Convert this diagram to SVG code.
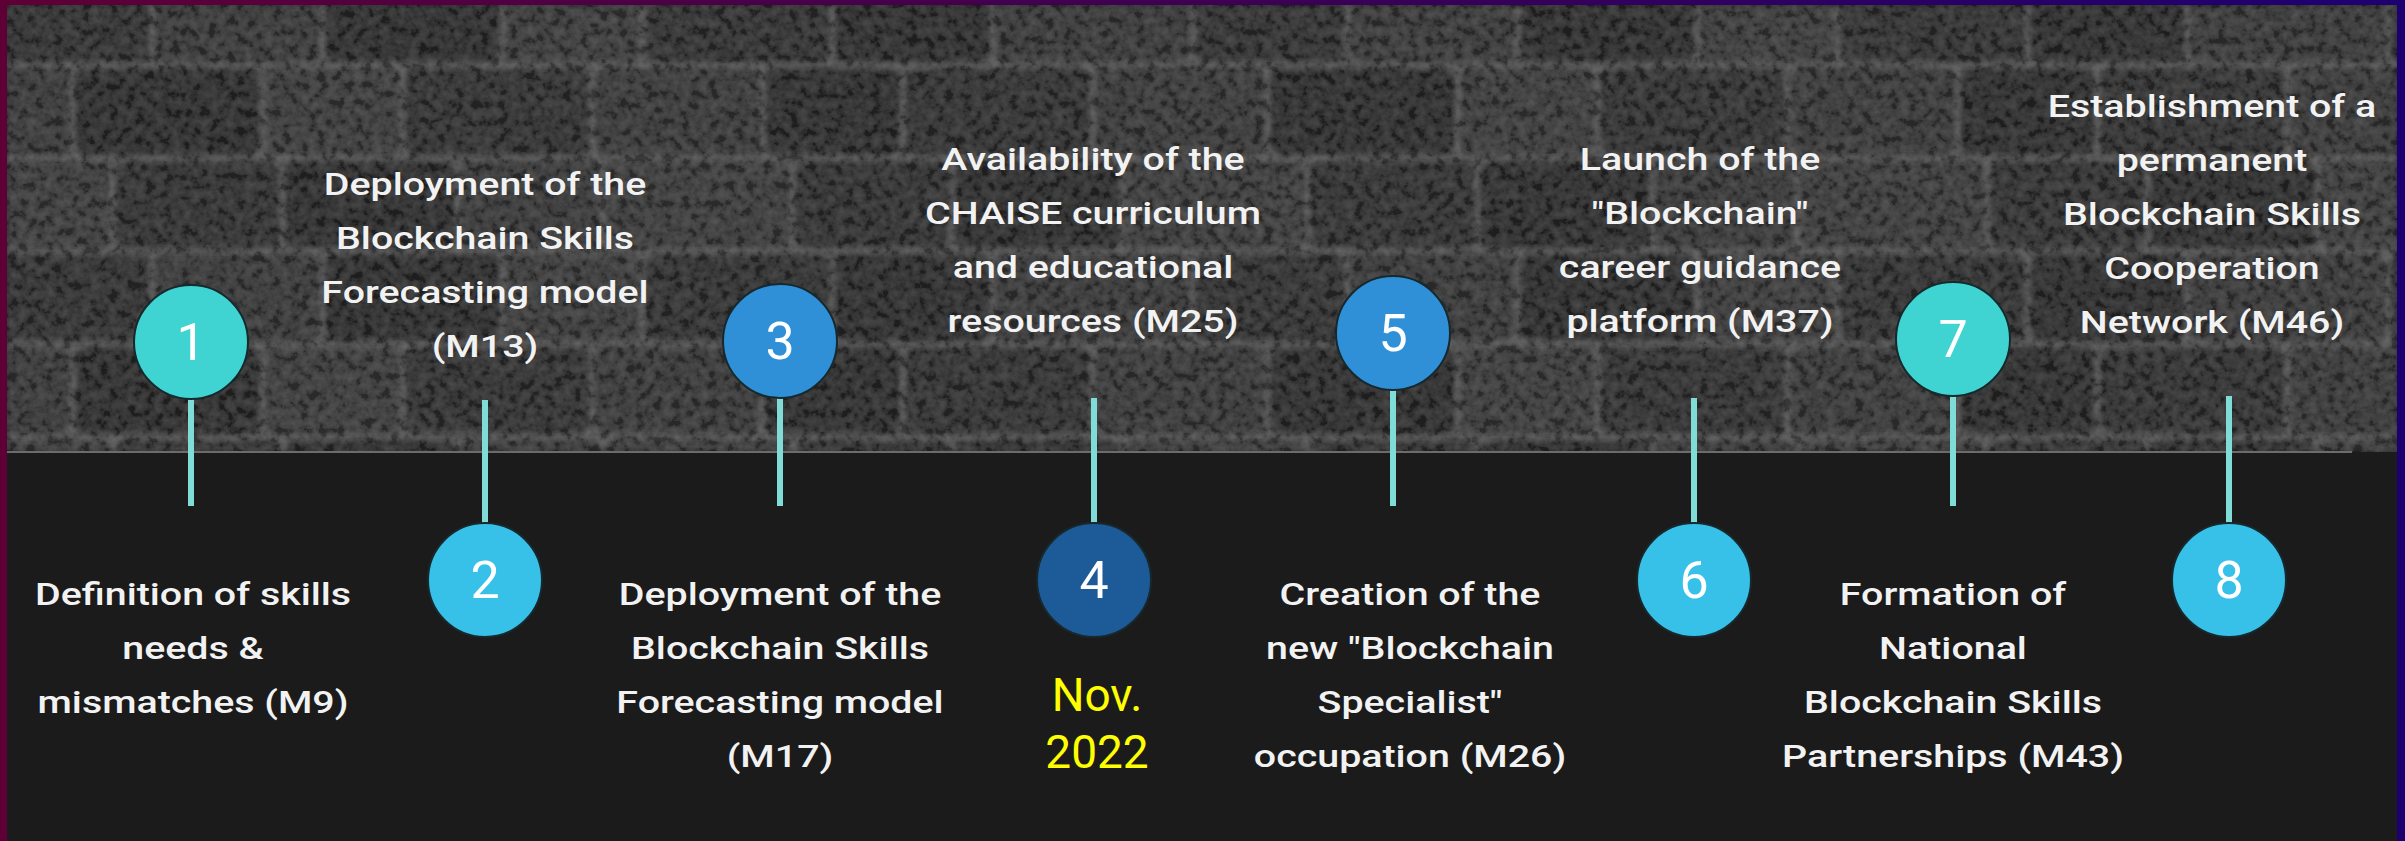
<svg xmlns="http://www.w3.org/2000/svg" width="2405" height="841" viewBox="0 0 2405 841">
<style>
.lbl{font-family:Roboto,"Liberation Sans",sans-serif;font-weight:500;font-size:31px;fill:#f2f2f2;text-anchor:middle}
.num{font-family:Roboto,"Liberation Sans",sans-serif;font-weight:400;font-size:52px;fill:#ffffff;text-anchor:middle}
.date{font-family:Roboto,"Liberation Sans",sans-serif;font-weight:400;font-size:46px;fill:#ffff00;text-anchor:middle}
.dot{stroke:#17292d;stroke-width:2}
.c1{fill:#3fd4d2}.c2{fill:#37c0e8}.c3{fill:#2f90d8}.c4{fill:#1c5a98}
.conn line{stroke:#80dcd6;stroke-width:6}
.b0{fill:#2a2a2a}.b1{fill:#303030}.b2{fill:#262626}.b3{fill:#343434}
</style>
<defs>
<linearGradient id="frame" x1="0" y1="0" x2="1" y2="0">
<stop offset="0" stop-color="#5e0036"/>
<stop offset="1" stop-color="#1d0070"/>
</linearGradient>
<pattern id="bricks" patternUnits="userSpaceOnUse" x="0" y="-25.5" width="1195" height="279">
<rect width="1195" height="279" fill="#505050"/>
<g>
<rect class="b0" x="0" y="0" width="150" height="88" rx="9"/>
<rect class="b1" x="155" y="0" width="165" height="88" rx="9"/>
<rect class="b2" x="325" y="0" width="175" height="88" rx="9"/>
<rect class="b3" x="505" y="0" width="135" height="88" rx="9"/>
<rect class="b0" x="645" y="0" width="185" height="88" rx="9"/>
<rect class="b2" x="835" y="0" width="155" height="88" rx="9"/>
<rect class="b1" x="995" y="0" width="195" height="88" rx="9"/>
<rect class="b1" x="-100" y="93" width="170" height="88" rx="9"/>
<rect class="b2" x="75" y="93" width="185" height="88" rx="9"/>
<rect class="b3" x="265" y="93" width="135" height="88" rx="9"/>
<rect class="b0" x="405" y="93" width="185" height="88" rx="9"/>
<rect class="b1" x="595" y="93" width="165" height="88" rx="9"/>
<rect class="b2" x="765" y="93" width="135" height="88" rx="9"/>
<rect class="b0" x="905" y="93" width="185" height="88" rx="9"/>
<rect class="b1" x="1095" y="93" width="170" height="88" rx="9"/>
<rect class="b3" x="-30" y="186" width="140" height="88" rx="9"/>
<rect class="b0" x="115" y="186" width="165" height="88" rx="9"/>
<rect class="b2" x="285" y="186" width="170" height="88" rx="9"/>
<rect class="b1" x="460" y="186" width="140" height="88" rx="9"/>
<rect class="b3" x="605" y="186" width="185" height="88" rx="9"/>
<rect class="b0" x="795" y="186" width="155" height="88" rx="9"/>
<rect class="b2" x="955" y="186" width="165" height="88" rx="9"/>
<rect class="b3" x="1125" y="186" width="140" height="88" rx="9"/>
</g>
</pattern>
<filter id="soft" x="0" y="0" width="100%" height="100%">
<feGaussianBlur stdDeviation="2.4"/>
</filter>
<filter id="noise" x="0" y="0" width="100%" height="100%">
<feTurbulence type="fractalNoise" baseFrequency="0.11" numOctaves="4" seed="7"/>
<feColorMatrix type="matrix" values="1.1 0 0 0 -0.35  1.1 0 0 0 -0.35  1.1 0 0 0 -0.35  0 0 0 0 0.2"/>
</filter>
</defs>

<g id="background">
<rect x="0" y="0" width="2405" height="841" fill="url(#frame)"/>
<rect x="7" y="5" width="2390" height="836" fill="#1b1b1b"/>
<rect x="7" y="5" width="2390" height="447" fill="url(#bricks)" filter="url(#soft)"/>
<rect x="7" y="5" width="2390" height="447" filter="url(#noise)"/>
<line x1="7" y1="452" x2="2352" y2="452" stroke="#6c6c6c" stroke-width="2"/>
</g>

<g id="connectors" class="conn">
<line x1="191" y1="398" x2="191" y2="506"/>
<line x1="485" y1="400" x2="485" y2="524"/>
<line x1="780" y1="398" x2="780" y2="506"/>
<line x1="1094" y1="398" x2="1094" y2="524"/>
<line x1="1393" y1="390" x2="1393" y2="506"/>
<line x1="1694" y1="398" x2="1694" y2="524"/>
<line x1="1953" y1="396" x2="1953" y2="506"/>
<line x1="2229" y1="396" x2="2229" y2="524"/>
</g>

<g id="node-1">
<circle class="dot c1" cx="191" cy="342" r="57"/>
<text class="num" x="191" y="360">1</text>
<text class="lbl" transform="translate(193,0) scale(1.27,1)"><tspan x="0" y="605">Definition of skills</tspan><tspan x="0" y="659">needs &amp;</tspan><tspan x="0" y="713">mismatches (M9)</tspan></text>
</g>

<g id="node-2">
<circle class="dot c2" cx="485" cy="580" r="57"/>
<text class="num" x="485" y="598">2</text>
<text class="lbl" transform="translate(485,0) scale(1.27,1)"><tspan x="0" y="195">Deployment of the</tspan><tspan x="0" y="249">Blockchain Skills</tspan><tspan x="0" y="303">Forecasting model</tspan><tspan x="0" y="357">(M13)</tspan></text>
</g>

<g id="node-3">
<circle class="dot c3" cx="780" cy="341" r="57"/>
<text class="num" x="780" y="359">3</text>
<text class="lbl" transform="translate(780,0) scale(1.27,1)"><tspan x="0" y="605">Deployment of the</tspan><tspan x="0" y="659">Blockchain Skills</tspan><tspan x="0" y="713">Forecasting model</tspan><tspan x="0" y="767">(M17)</tspan></text>
</g>

<g id="node-4">
<circle class="dot c4" cx="1094" cy="580" r="57"/>
<text class="num" x="1094" y="598">4</text>
<text class="lbl" transform="translate(1093,0) scale(1.27,1)"><tspan x="0" y="170">Availability of the</tspan><tspan x="0" y="224">CHAISE curriculum</tspan><tspan x="0" y="278">and educational</tspan><tspan x="0" y="332">resources (M25)</tspan></text>
<text class="date" x="1097"><tspan x="1097" y="711">Nov.</tspan><tspan x="1097" y="768">2022</tspan></text>
</g>

<g id="node-5">
<circle class="dot c3" cx="1393" cy="333" r="57"/>
<text class="num" x="1393" y="351">5</text>
<text class="lbl" transform="translate(1410,0) scale(1.27,1)"><tspan x="0" y="605">Creation of the</tspan><tspan x="0" y="659">new "Blockchain</tspan><tspan x="0" y="713">Specialist"</tspan><tspan x="0" y="767">occupation (M26)</tspan></text>
</g>

<g id="node-6">
<circle class="dot c2" cx="1694" cy="580" r="57"/>
<text class="num" x="1694" y="598">6</text>
<text class="lbl" transform="translate(1700,0) scale(1.27,1)"><tspan x="0" y="170">Launch of the</tspan><tspan x="0" y="224">"Blockchain"</tspan><tspan x="0" y="278">career guidance</tspan><tspan x="0" y="332">platform (M37)</tspan></text>
</g>

<g id="node-7">
<circle class="dot c1" cx="1953" cy="339" r="57"/>
<text class="num" x="1953" y="357">7</text>
<text class="lbl" transform="translate(1953,0) scale(1.27,1)"><tspan x="0" y="605">Formation of</tspan><tspan x="0" y="659">National</tspan><tspan x="0" y="713">Blockchain Skills</tspan><tspan x="0" y="767">Partnerships (M43)</tspan></text>
</g>

<g id="node-8">
<circle class="dot c2" cx="2229" cy="580" r="57"/>
<text class="num" x="2229" y="598">8</text>
<text class="lbl" transform="translate(2212,0) scale(1.27,1)"><tspan x="0" y="117">Establishment of a</tspan><tspan x="0" y="171">permanent</tspan><tspan x="0" y="225">Blockchain Skills</tspan><tspan x="0" y="279">Cooperation</tspan><tspan x="0" y="333">Network (M46)</tspan></text>
</g>
</svg>
